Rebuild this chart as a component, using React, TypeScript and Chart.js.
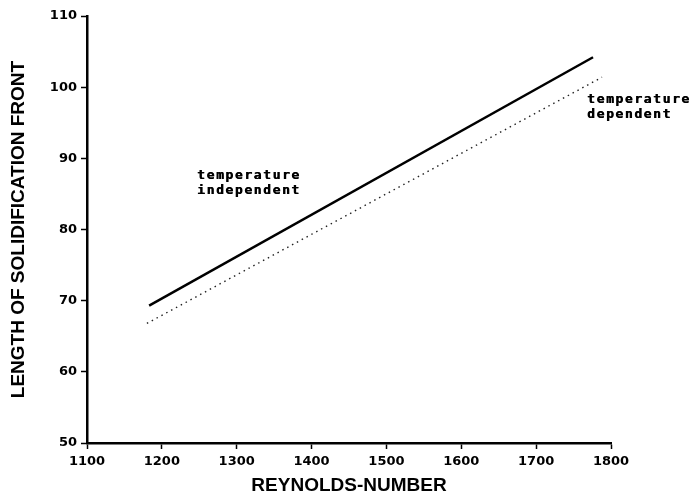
import React, { useEffect, useRef } from "react";
import { Chart, registerables } from "chart.js";

Chart.register(...registerables);

const independentX = [1183, 1776];
const independentY = [69.3, 104.2];
const dependentX = [1180, 1788];
const dependentY = [66.8, 101.4];

const xTicks = [1100, 1200, 1300, 1400, 1500, 1600, 1700, 1800];
const yTicks = [50, 60, 70, 80, 90, 100, 110];

const notes = [
  { lines: ["temperature", "independent"], x: 1247, y: 87.1 },
  { lines: ["temperature", "dependent"], x: 1768, y: 97.8 },
];

const noteFont = "bold 13px 'DejaVu Sans Mono'";

const notePlugin = {
  id: "notes",
  afterDatasetsDraw(chart: any) {
    const ctx = chart.ctx;
    const xs = chart.scales.x;
    const ys = chart.scales.y;
    ctx.save();
    ctx.fillStyle = "#000";
    ctx.font = noteFont;
    (ctx as any).letterSpacing = "1.6px";
    ctx.textAlign = "left";
    ctx.textBaseline = "alphabetic";
    notes.forEach((n) => {
      const px = xs.getPixelForValue(n.x);
      const py = ys.getPixelForValue(n.y);
      n.lines.forEach((l, i) => {
        ctx.fillText(l, px, py + i * 15);
        ctx.fillText(l, px + 0.5, py + i * 15);
      });
    });
    ctx.restore();
  },
};

export default function App() {
  const ref = useRef<HTMLCanvasElement>(null);
  useEffect(() => {
    if (!ref.current) return;
    const chart = new Chart(ref.current, {
      type: "scatter",
      data: {
        datasets: [
          {
            label: "temperature independent",
            data: independentX.map((x, i) => ({ x, y: independentY[i] })),
            showLine: true,
            borderColor: "#000",
            borderWidth: 2.5,
            pointRadius: 0,
          },
          {
            label: "temperature dependent",
            data: dependentX.map((x, i) => ({ x, y: dependentY[i] })),
            showLine: true,
            borderColor: "#222",
            borderWidth: 1.4,
            borderDash: [1.5, 4],
            pointRadius: 0,
          },
        ],
      },
      options: {
        animation: false,
        responsive: false,
        layout: { padding: { top: 16, right: 84, left: 0, bottom: 0 } },
        plugins: { legend: { display: false }, tooltip: { enabled: false } },
        scales: {
          x: {
            type: "linear",
            min: 1100,
            max: 1800,
            afterBuildTicks: (s: any) => {
              s.ticks = xTicks.map((v) => ({ value: v }));
            },
            afterFit: (s: any) => {
              s.height = 497 - 443;
            },
            grid: {
              drawOnChartArea: false,
              drawTicks: true,
              tickLength: 6,
              tickWidth: 1.5,
              tickColor: "#000",
            },
            border: { color: "#000", width: 2.5 },
            ticks: {
              color: "#000",
              font: { family: "'DejaVu Sans'", size: 13, weight: "bold" },
              padding: 5,
              maxRotation: 0,
              callback: (v: any) => String(v),
            },
            title: {
              display: true,
              text: "REYNOLDS-NUMBER",
              color: "#000",
              font: { family: "'Liberation Sans'", size: 19, weight: "bold" },
              padding: { top: 0, bottom: 0 },
            },
          },
          y: {
            type: "linear",
            min: 50,
            max: 110,
            afterBuildTicks: (s: any) => {
              s.ticks = yTicks.map((v) => ({ value: v }));
            },
            afterFit: (s: any) => {
              s.width = 87;
            },
            grid: {
              drawOnChartArea: false,
              drawTicks: true,
              tickLength: 6,
              tickWidth: 1.5,
              tickColor: "#000",
            },
            border: { color: "#000", width: 2.5 },
            ticks: {
              color: "#000",
              font: { family: "'DejaVu Sans'", size: 13, weight: "bold" },
              padding: 4,
              callback: (v: any) => String(v),
            },
            title: {
              display: true,
              text: "LENGTH OF SOLIDIFICATION FRONT",
              color: "#000",
              font: { family: "'Liberation Sans'", size: 19, weight: "bold" },
              padding: { top: 7, bottom: 0 },
            },
          },
        },
      },
      plugins: [notePlugin],
    });
    return () => chart.destroy();
  }, []);
  return (
    <div style={{ position: "absolute", left: 0, top: 0, width: 695, height: 497, background: "#fff" }}>
      <canvas ref={ref} width={695} height={497} style={{ width: 695, height: 497 }} />
    </div>
  );
}
